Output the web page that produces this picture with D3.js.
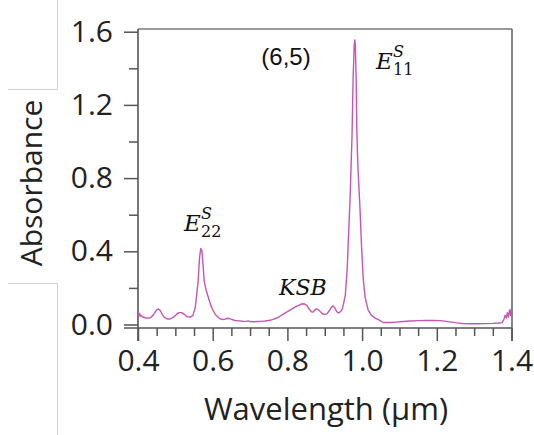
<!DOCTYPE html>
<html>
<head>
<meta charset="utf-8">
<script src="https://cdn.jsdelivr.net/npm/d3@7"></script>
<style>
  html, body { margin: 0; padding: 0; background: #fff; }
  svg { display: block; }
</style>
</head>
<body>
<svg id="chart" width="534" height="435"></svg>
<script>
// ---- data ----
const wavelength = [0.400,0.402,0.404,0.406,0.409,0.412,0.416,0.420,0.425,0.430,0.435,0.440,0.445,0.450,0.455,0.460,0.465,0.470,0.478,0.486,0.495,0.503,0.510,0.517,0.524,0.532,0.540,0.547,0.553,0.557,0.561,0.565,0.568,0.571,0.574,0.577,0.582,0.588,0.594,0.600,0.608,0.617,0.625,0.632,0.638,0.643,0.650,0.660,0.670,0.680,0.690,0.695,0.700,0.710,0.720,0.730,0.740,0.750,0.760,0.770,0.780,0.790,0.800,0.810,0.820,0.830,0.838,0.845,0.852,0.858,0.864,0.869,0.875,0.880,0.886,0.893,0.900,0.906,0.912,0.918,0.922,0.927,0.932,0.937,0.942,0.946,0.950,0.955,0.960,0.964,0.968,0.973,0.976,0.979,0.9805,0.982,0.984,0.986,0.989,0.994,0.998,1.003,1.008,1.016,1.025,1.035,1.045,1.056,1.075,1.090,1.110,1.130,1.150,1.170,1.190,1.210,1.230,1.250,1.270,1.290,1.310,1.330,1.350,1.365,1.375,1.380,1.383,1.386,1.389,1.392,1.395,1.398,1.400];
const absorbance = [0.075,0.050,0.060,0.045,0.050,0.040,0.040,0.035,0.036,0.035,0.040,0.050,0.065,0.080,0.085,0.075,0.055,0.040,0.030,0.030,0.040,0.055,0.065,0.065,0.055,0.042,0.040,0.050,0.090,0.160,0.240,0.370,0.415,0.405,0.330,0.240,0.190,0.150,0.110,0.080,0.052,0.035,0.027,0.028,0.033,0.034,0.028,0.022,0.020,0.018,0.017,0.020,0.016,0.015,0.016,0.017,0.019,0.022,0.027,0.034,0.045,0.058,0.070,0.083,0.095,0.105,0.112,0.113,0.105,0.085,0.070,0.068,0.082,0.085,0.075,0.060,0.055,0.058,0.075,0.095,0.102,0.090,0.070,0.063,0.070,0.080,0.110,0.160,0.300,0.500,0.700,1.030,1.350,1.530,1.555,1.520,1.350,1.050,0.850,0.650,0.450,0.250,0.150,0.080,0.050,0.035,0.025,0.011,0.011,0.013,0.016,0.019,0.021,0.022,0.022,0.021,0.016,0.010,0.005,0.004,0.004,0.005,0.006,0.008,0.010,0.030,0.050,0.035,0.065,0.040,0.080,0.050,0.090];
const yMajorTicks = [0, 0.4, 0.8, 1.2, 1.6];
const yMinorTicks = [0.2, 0.6, 1.0, 1.4];
const xMajorTicks = [0.4, 0.6, 0.8, 1.0, 1.2, 1.4];
const xMinorTicks = [0.45,0.5,0.55,0.65,0.7,0.75,0.85,0.9,0.95,1.05,1.1,1.15,1.25,1.3,1.35];
const xTitle = "Wavelength (µm)";
const yTitle = "Absorbance";

// ---- layout ----
const svg = d3.select("#chart");
const x = d3.scaleLinear().domain([0.4, 1.4]).range([138, 511.5]);
const y = d3.scaleLinear().domain([0, 1.6]).range([324.5, 31.7]);
const frameTop = 29, xAxisY = 328, axisBottomEnd = 341;
const axisColor = "#555";
const fontAxis = "'Open Sans', sans-serif";

// decorative light-gray box lines (from source layout)
const deco = svg.append("g").attr("stroke", "#cfcfcf").attr("stroke-width", 1).attr("fill", "none");
deco.append("path").attr("d", "M57.5,0 V89.5 H8");
deco.append("path").attr("d", "M8,283.5 H57.5 V435");

// frame lines
const frame = svg.append("g").attr("stroke", axisColor).attr("stroke-width", 1.6).attr("fill", "none");
frame.append("line").attr("x1", 138).attr("x2", 512).attr("y1", frameTop).attr("y2", frameTop).attr("stroke", "#777");
frame.append("line").attr("x1", 512).attr("x2", 512).attr("y1", frameTop).attr("y2", axisBottomEnd).attr("stroke", "#666");
frame.append("line").attr("x1", 138).attr("x2", 138).attr("y1", frameTop).attr("y2", axisBottomEnd);
frame.append("line").attr("x1", 124).attr("x2", 512).attr("y1", xAxisY).attr("y2", xAxisY);

// y axis
const yAxis = svg.append("g").attr("transform", "translate(138,0)")
  .call(d3.axisLeft(y).tickValues(yMajorTicks).tickSize(14).tickPadding(11).tickFormat(d3.format(".1f")));
const yAxisMinor = svg.append("g").attr("transform", "translate(138,0)")
  .call(d3.axisLeft(y).tickValues(yMinorTicks).tickSize(9).tickFormat(""));
// x axis
const xAxis = svg.append("g").attr("transform", `translate(0,${xAxisY})`)
  .call(d3.axisBottom(x).tickValues(xMajorTicks).tickSize(13).tickPadding(9).tickFormat(d3.format(".1f")));
const xAxisMinor = svg.append("g").attr("transform", `translate(0,${xAxisY})`)
  .call(d3.axisBottom(x).tickValues(xMinorTicks).tickSize(8).tickFormat(""));

[yAxis, yAxisMinor, xAxis, xAxisMinor].forEach(g => {
  g.select(".domain").remove();
  g.selectAll(".tick line").attr("stroke", axisColor).attr("stroke-width", 1.5);
  g.selectAll(".tick text").attr("fill", "#222").style("font-family", fontAxis).style("font-size", "30px");
});

// titles
svg.append("text").attr("x", 326).attr("y", 420).attr("text-anchor", "middle")
  .style("font-family", fontAxis).style("font-size", "31px").attr("fill", "#222").text(xTitle);
svg.append("text").attr("transform", "translate(42,183) rotate(-90)").attr("text-anchor", "middle")
  .style("font-family", fontAxis).style("font-size", "30px").attr("fill", "#222").text(yTitle);

// curve
const line = d3.line().x((d, i) => x(wavelength[i])).y(d => y(d));
svg.append("path").datum(absorbance).attr("d", line)
  .attr("fill", "none").attr("stroke", "#c455b4").attr("stroke-width", 1.4).attr("stroke-linejoin", "round");

// annotations
svg.append("text").attr("x", 286).attr("y", 65).attr("text-anchor", "middle")
  .style("font-family", "'Liberation Sans', Arial, sans-serif").style("font-size", "24px").attr("fill", "#111").text("(6,5)");

const serif = "'DejaVu Serif', serif";
function eLabel(xp, yp, sub) {
  const t = svg.append("text").attr("x", xp).attr("y", yp)
    .style("font-family", serif).style("font-style", "italic").style("font-size", "23px").attr("fill", "#111");
  t.append("tspan").text("E");
  const tx = xp + 17;
  t.append("tspan").attr("x", tx).attr("y", yp - 12).style("font-size", "16px").text("S");
  t.append("tspan").attr("x", tx).attr("y", yp + 6).style("font-size", "16px").style("font-style", "normal").text(sub);
}
eLabel(376, 69, "11");
eLabel(184, 231, "22");
svg.append("text").attr("x", 279).attr("y", 295)
  .style("font-family", serif).style("font-style", "italic").style("font-size", "22px").attr("fill", "#111").text("KSB");
</script>
</body>
</html>
